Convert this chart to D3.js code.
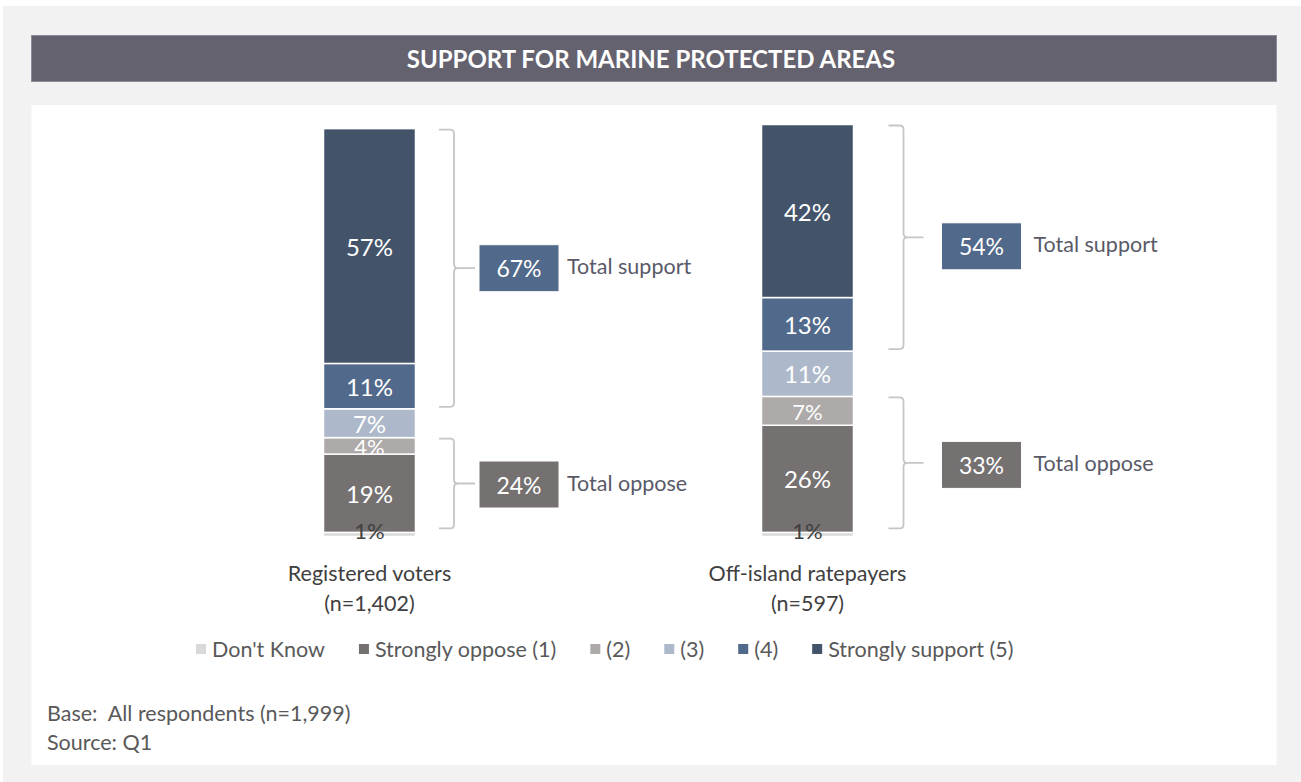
<!DOCTYPE html>
<html>
<head>
<meta charset="utf-8">
<script src="https://cdn.jsdelivr.net/npm/d3@7"></script>
<style>
  html, body { margin: 0; padding: 0; background: #ffffff; }
  svg { display: block; }
  text { font-family: Lato, "Open Sans", sans-serif; white-space: pre; }
</style>
</head>
<body>
<svg id="chart" width="1301" height="782"></svg>
<script>
// ---------------- data ----------------
const title = "SUPPORT FOR MARINE PROTECTED AREAS";
const groups = ["Registered voters", "Off-island ratepayers"];
const groupBase = ["(n=1,402)", "(n=597)"];
const categories = ["Don't Know", "Strongly oppose (1)", "(2)", "(3)", "(4)", "Strongly support (5)"];
const dontKnow = [1, 1];
const stronglyOppose = [19, 26];
const oppose2 = [4, 7];
const neutral3 = [7, 11];
const support4 = [11, 13];
const stronglySupport = [57, 42];
const totalSupport = [67, 54];
const totalOppose = [24, 33];
const footnotes = ["Base:  All respondents (n=1,999)", "Source: Q1"];

// ---------------- style ----------------
const colors = ["#d9d9d9", "#757171", "#aeaaaa", "#adb9ca", "#51698a", "#43546a"];
const labelColors = ["#404040", "#ffffff", "#ffffff", "#ffffff", "#ffffff", "#ffffff"];
const supportColor = "#51698a", opposeColor = "#757171";
const textGrey = "#595959";

const series = [dontKnow, stronglyOppose, oppose2, neutral3, support4, stronglySupport];
const rows = groups.map((g, i) => {
  const r = { group: g };
  categories.forEach((c, k) => r[c] = series[k][i]);
  return r;
});
const stacked = d3.stack().keys(categories)(rows);

const svg = d3.select("#chart");

// backgrounds
svg.append("rect").attr("x", 3).attr("y", 6).attr("width", 1298).attr("height", 776).attr("fill", "#f2f2f2");
svg.append("rect").attr("x", 31.5).attr("y", 35.5).attr("width", 1245).attr("height", 46)
  .attr("fill", "#656270").attr("stroke", "#8f8c99").attr("stroke-width", 1);
svg.append("text").attr("x", 651).attr("y", 58).attr("text-anchor", "middle").attr("dominant-baseline", "central")
  .attr("fill", "#ffffff").attr("font-weight", "bold").attr("font-size", 24).text(title);
svg.append("rect").attr("x", 31.5).attr("y", 105).attr("width", 1245).attr("height", 660).attr("fill", "#ffffff");

// scales
const x = d3.scalePoint().domain(groups).range([369.5, 807.5]);
const barW = 92;
const y = d3.scaleLinear().domain([0, 100]).range([536.5, 124.5]);

// bars
const layers = svg.append("g").selectAll("g").data(stacked).join("g")
  .attr("fill", (d, k) => colors[k]);
layers.selectAll("rect").data(d => d).join("rect")
  .attr("x", d => x(d.data.group) - barW / 2)
  .attr("y", d => y(d[1]))
  .attr("width", barW)
  .attr("height", d => y(d[0]) - y(d[1]))
  .attr("stroke", "#ffffff").attr("stroke-width", 1.5);

// segment labels
stacked.forEach((layer, k) => {
  svg.append("g").selectAll("text").data(layer).join("text")
    .attr("x", d => x(d.data.group))
    .attr("y", d => (y(d[0]) + y(d[1])) / 2 + (k === 0 ? -4 : (k === 2 ? 1 : 0)))
    .attr("text-anchor", "middle").attr("dominant-baseline", "central")
    .attr("fill", labelColors[k]).attr("font-size", k === 2 || k === 0 ? 22 : 24)
    .text(d => (d[1] - d[0]) + "%");
});

// brackets and totals
const layout = [
  { gap: 38.5, tick: 21, box: 25, text: 113, sOff: 0, oOff: 1 },
  { gap: 50, tick: 20, box: 38, text: 130, sOff: 9, oOff: 2 }
];
function brace(vx, y0, y1, tick) {
  const ym = (y0 + y1) / 2, r = 4, p = d3.path();
  p.moveTo(vx - 15, y0); p.lineTo(vx - r, y0); p.quadraticCurveTo(vx, y0, vx, y0 + r);
  p.lineTo(vx, ym - r); p.quadraticCurveTo(vx, ym, vx + r, ym); p.lineTo(vx + tick, ym);
  p.moveTo(vx + r, ym); p.quadraticCurveTo(vx, ym, vx, ym + r);
  p.lineTo(vx, y1 - r); p.quadraticCurveTo(vx, y1, vx - r, y1); p.lineTo(vx - 15, y1);
  return p.toString();
}
groups.forEach((g, i) => {
  const L = layout[i];
  const vx = x(g) + barW / 2 + L.gap;
  const sTop = y(stacked[5][i][1]), sBot = y(stacked[4][i][0]);
  const oTop = y(stacked[2][i][1]), oBot = y(stacked[1][i][0]);
  const items = [
    { y0: sTop + 1, y1: sBot - 2, val: totalSupport[i], label: "Total support", col: supportColor, off: L.sOff },
    { y0: oTop + 1, y1: oBot - 4, val: totalOppose[i], label: "Total oppose", col: opposeColor, off: L.oOff }
  ];
  items.forEach(it => {
    const ym = (it.y0 + it.y1) / 2;
    const by = ym + it.off;
    svg.append("path").attr("d", brace(vx, it.y0, it.y1, L.tick))
      .attr("fill", "none").attr("stroke", "#c6c6c6").attr("stroke-width", 1.8);
    svg.append("rect").attr("x", vx + L.box).attr("y", by - 23.5).attr("width", 80).attr("height", 47)
      .attr("fill", it.col).attr("stroke", "#ffffff").attr("stroke-width", 1);
    svg.append("text").attr("x", vx + L.box + 40).attr("y", by).attr("text-anchor", "middle")
      .attr("dominant-baseline", "central").attr("fill", "#ffffff").attr("font-size", 23).text(it.val + "%");
    svg.append("text").attr("x", vx + L.text).attr("y", by - 2).attr("dominant-baseline", "central")
      .attr("fill", "#595968").attr("font-size", 21.5).text(it.label);
  });
});

// category labels
groups.forEach((g, i) => {
  svg.append("text").attr("x", x(g)).attr("y", 573).attr("text-anchor", "middle").attr("dominant-baseline", "central")
    .attr("fill", "#404040").attr("font-size", 21.5).text(g);
  svg.append("text").attr("x", x(g)).attr("y", 603).attr("text-anchor", "middle").attr("dominant-baseline", "central")
    .attr("fill", "#404040").attr("font-size", 21.5).text(groupBase[i]);
});

// legend
const legend = svg.append("g");
let lx = 196;
categories.forEach((c, k) => {
  legend.append("rect").attr("x", lx).attr("y", 644).attr("width", 10).attr("height", 10).attr("fill", colors[k]);
  const t = legend.append("text").attr("x", lx + 16).attr("y", 649).attr("dominant-baseline", "central")
    .attr("fill", textGrey).attr("font-size", 21.5).text(c);
  lx += 16 + t.node().getComputedTextLength() + 34;
});

// footnotes
footnotes.forEach((f, i) => {
  svg.append("text").attr("x", 47).attr("y", 713 + i * 29).attr("dominant-baseline", "central")
    .attr("fill", textGrey).attr("font-size", 21.5).text(f);
});
</script>
</body>
</html>
